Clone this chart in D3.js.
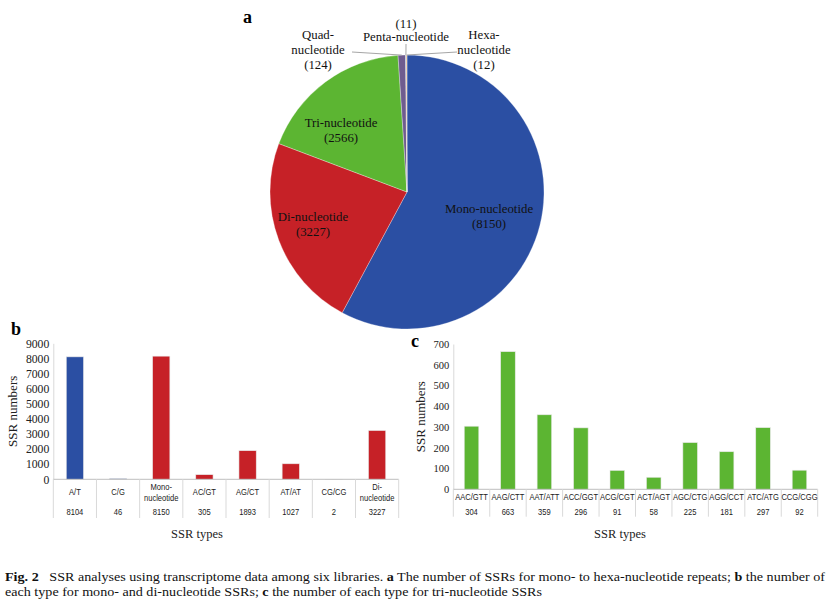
<!DOCTYPE html>
<html>
<head>
<meta charset="utf-8">
<script src="https://cdn.jsdelivr.net/npm/d3@7"></script>
<style>
  body { margin: 0; background: #fff; }
  svg { display: block; }
</style>
</head>
<body>
<svg id="fig" width="830" height="602"></svg>
<script>
// data for panel a (pie)
var pieNames = ["Mono-nucleotide", "Di-nucleotide", "Tri-nucleotide", "Quad-nucleotide", "Penta-nucleotide", "Hexa-nucleotide"];
var pieValues = [8150, 3227, 2566, 124, 11, 12];
var pieColors = ["#2b4fa3", "#c62127", "#5cb532", "#6f5c8f", "#8fb3d9", "#e8a25a"];

// data for panel b
var bCategories = ["A/T", "C/G", "Mono-|nucleotide", "AC/GT", "AG/CT", "AT/AT", "CG/CG", "Di-|nucleotide"];
var bValues = [8104, 46, 8150, 305, 1893, 1027, 2, 3227];
var bColors = ["#2b4fa3", "#2b4fa3", "#c62127", "#c62127", "#c62127", "#c62127", "#c62127", "#c62127"];
var bTicks = [0, 1000, 2000, 3000, 4000, 5000, 6000, 7000, 8000, 9000];

// data for panel c
var cCategories = ["AAC/GTT", "AAG/CTT", "AAT/ATT", "ACC/GGT", "ACG/CGT", "ACT/AGT", "AGC/CTG", "AGG/CCT", "ATC/ATG", "CCG/CGG"];
var cValues = [304, 663, 359, 296, 91, 58, 225, 181, 297, 92];
var cTicks = [0, 100, 200, 300, 400, 500, 600, 700];

var serif = "'Liberation Serif', 'Times New Roman', serif";
var sans = "'Liberation Sans', Arial, sans-serif";

var svg = d3.select("#fig");

// ---------- panel a ----------
var cx = 407, cy = 192, r = 137;
var pie = d3.pie().sort(null).value(function(d) { return d; });
var arcs = pie(pieValues);
var arc = d3.arc().innerRadius(0).outerRadius(r);

var gPie = svg.append("g").attr("transform", "translate(" + cx + "," + cy + ")");
gPie.selectAll("path")
  .data(arcs)
  .enter().append("path")
	.attr("d", arc)
	.attr("fill", function(d, i) { return pieColors[i]; })
	.attr("stroke", "#fff")
	.attr("stroke-width", 0.3);

svg.append("text")
	.attr("x", 243).attr("y", 23)
	.style("font-family", serif).style("font-weight", "bold").style("font-size", "18px")
	.text("a");

// label blocks placed by hand, leader lines run to the slice edge
var pieLabels = [
	{ i: 0, x: 489, y: 213, dy: 15, lines: ["Mono-nucleotide", "(8150)"] },
	{ i: 1, x: 313, y: 221, dy: 15, lines: ["Di-nucleotide", "(3227)"] },
	{ i: 2, x: 341, y: 126.5, dy: 15, lines: ["Tri-nucleotide", "(2566)"] },
	{ i: 3, x: 318, y: 38.5, dy: 15.3, lines: ["Quad-", "nucleotide", "(124)"], lead: [352, 52] },
	{ i: 4, x: 406, y: 27.5, dy: 13, lines: ["(11)", "Penta-nucleotide"], lead: [406, 44] },
	{ i: 5, x: 484, y: 38.5, dy: 15.3, lines: ["Hexa-", "nucleotide", "(12)"], lead: [457, 52] }
];

pieLabels.forEach(function(l) {
	var t = svg.append("text")
		.attr("text-anchor", "middle")
		.style("font-family", serif).style("font-size", "12.8px").style("fill", "#111");
	l.lines.forEach(function(s, k) {
		t.append("tspan").attr("x", l.x).attr("y", l.y + k * l.dy).text(s);
	});
	if (l.lead) {
		var a = (arcs[l.i].startAngle + arcs[l.i].endAngle) / 2;
		svg.append("line")
			.attr("x1", l.lead[0]).attr("y1", l.lead[1])
			.attr("x2", cx + r * Math.sin(a)).attr("y2", cy - r * Math.cos(a))
			.attr("stroke", "#a6a6a6").attr("stroke-width", 1);
	}
});

// small sans text squeezed a little to look like the narrow table font
function tableText(g, x, y, s) {
	var t = g.append("text")
		.attr("x", x).attr("y", y)
		.attr("text-anchor", "middle")
		.style("font-family", sans).style("font-size", "8.6px").style("fill", "#222")
		.text(s);
	var w = t.node().getComputedTextLength();
	t.attr("textLength", w * 0.88).attr("lengthAdjust", "spacingAndGlyphs");
}

// ---------- bar panels with data table ----------
function drawBars(opt) {
	var g = svg.append("g");

	var xCell = d3.scaleBand().domain(opt.categories).range([opt.left, opt.right]).padding(0);
	var x = d3.scaleBand().domain(opt.categories).range([opt.left, opt.right])
		.paddingInner(0.6).paddingOuter(0.3);
	var y = d3.scaleLinear().domain([0, opt.max]).range([opt.base, opt.top]);

	// y axis: light rule and labels
	var ax = g.append("g")
		.attr("transform", "translate(" + opt.left + ",0)")
		.call(d3.axisLeft(y).tickValues(opt.ticks).tickFormat(d3.format("d")).tickSize(0).tickPadding(4));
	ax.select(".domain").attr("stroke", "#d9d9d9");
	ax.selectAll("text")
		.style("font-family", serif).style("font-size", opt.tickSize).style("fill", "#222");

	// bars
	g.selectAll("rect.bar")
	  .data(opt.values)
	  .enter().append("rect")
		.attr("class", "bar")
		.attr("x", function(d, i) { return x(opt.categories[i]); })
		.attr("width", x.bandwidth())
		.attr("y", function(d) { return y(d); })
		.attr("height", function(d) { return y(0) - y(d); })
		.attr("fill", function(d, i) { return opt.colors[i]; })
		.attr("stroke", "#e8e8e8").attr("stroke-width", 0.6);

	// baseline
	g.append("line")
		.attr("x1", opt.left).attr("x2", opt.right)
		.attr("y1", y(0)).attr("y2", y(0))
		.attr("stroke", "#bfbfbf").attr("stroke-width", 1);

	// table separators
	var edges = opt.categories.map(function(c) { return xCell(c); }).concat([opt.right]);
	g.selectAll("line.sep")
	  .data(edges)
	  .enter().append("line")
		.attr("class", "sep")
		.attr("x1", function(d) { return d; }).attr("x2", function(d) { return d; })
		.attr("y1", y(0)).attr("y2", opt.tableBottom)
		.attr("stroke", "#d9d9d9").attr("stroke-width", 1);

	// category names and values
	opt.categories.forEach(function(c, i) {
		var parts = c.split("|");
		var mx = xCell(c) + xCell.bandwidth() / 2;
		parts.forEach(function(p, k) {
			var yy = parts.length === 1 ? opt.labelY : opt.labelY - 5.5 + k * 11;
			tableText(g, mx, yy + 3, p);
		});
		tableText(g, mx, opt.valueY + 3, opt.values[i]);
	});

	// axis titles
	g.append("text")
		.attr("transform", "translate(" + opt.yTitleX + "," + ((opt.top + opt.base) / 2) + ") rotate(-90)")
		.attr("text-anchor", "middle")
		.style("font-family", serif).style("font-size", "13px").style("fill", "#222")
		.text("SSR numbers");
	g.append("text")
		.attr("x", opt.xTitleX).attr("y", opt.xTitleY)
		.attr("text-anchor", "middle")
		.style("font-family", serif).style("font-size", "12.5px").style("fill", "#222")
		.text("SSR types");

	// panel letter
	svg.append("text")
		.attr("x", opt.letter[1]).attr("y", opt.letter[2])
		.style("font-family", serif).style("font-weight", "bold").style("font-size", "18px")
		.text(opt.letter[0]);
}

drawBars({
	categories: bCategories, values: bValues, colors: bColors, ticks: bTicks, max: 9000,
	left: 53.3, right: 398.7, top: 343.3, base: 479.3, tableBottom: 518,
	labelY: 492, valueY: 511.7, tickSize: "11.7px",
	yTitleX: 17, xTitleX: 197, xTitleY: 538, letter: ["b", 11, 335]
});

drawBars({
	categories: cCategories, values: cValues, colors: cCategories.map(function() { return "#5cb532"; }),
	ticks: cTicks, max: 700,
	left: 453.3, right: 817.7, top: 344, base: 489.3, tableBottom: 516.7,
	labelY: 496.7, valueY: 511.7, tickSize: "10.5px",
	yTitleX: 425, xTitleX: 620, xTitleY: 538, letter: ["c", 411, 347]
});

// ---------- caption ----------
var cap1 = svg.append("text")
	.attr("x", 5).attr("y", 581)
	.attr("textLength", 820).attr("lengthAdjust", "spacingAndGlyphs")
	.style("font-family", serif).style("font-size", "13px").style("fill", "#111");
cap1.append("tspan").style("font-weight", "bold").text("Fig. 2");
cap1.append("tspan").text("\u2002 SSR analyses using transcriptome data among six libraries. ");
cap1.append("tspan").style("font-weight", "bold").text("a");
cap1.append("tspan").text(" The number of SSRs for mono- to hexa-nucleotide repeats; ");
cap1.append("tspan").style("font-weight", "bold").text("b");
cap1.append("tspan").text(" the number of");

var cap2 = svg.append("text")
	.attr("x", 5).attr("y", 596)
	.attr("textLength", 537).attr("lengthAdjust", "spacingAndGlyphs")
	.style("font-family", serif).style("font-size", "13px").style("fill", "#111");
cap2.append("tspan").text("each type for mono- and di-nucleotide SSRs; ");
cap2.append("tspan").style("font-weight", "bold").text("c");
cap2.append("tspan").text(" the number of each type for tri-nucleotide SSRs");
</script>
</body>
</html>
